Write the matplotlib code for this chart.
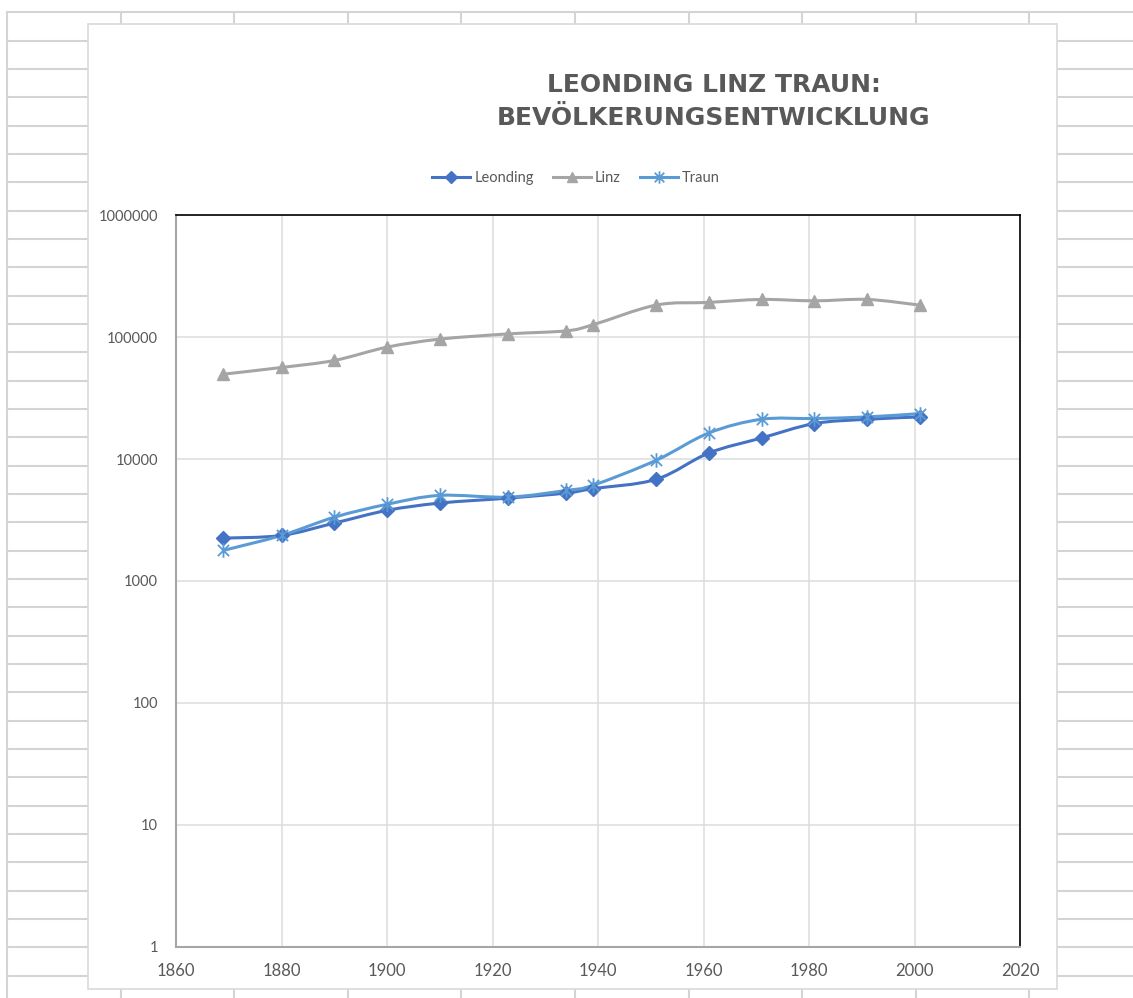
import matplotlib
matplotlib.use("Agg")
import matplotlib.pyplot as plt
import numpy as np
from matplotlib.path import Path
from matplotlib.patches import PathPatch, Rectangle
from matplotlib.lines import Line2D
from matplotlib.ticker import FixedLocator, FixedFormatter, NullLocator

# ---------------- data ----------------
years = [1869, 1880, 1890, 1900, 1910, 1923, 1934, 1939, 1951, 1961, 1971, 1981, 1991, 2001]
leonding = [2244, 2360, 2980, 3790, 4350, 4780, 5260, 5710, 6810, 11200, 14880, 19540, 21190, 22150]
linz = [49700, 56400, 64400, 82800, 96300, 106400, 112700, 126200, 183200, 192900, 204000, 198700, 204000, 183200]
traun = [1780, 2360, 3330, 4250, 5030, 4870, 5530, 6080, 9750, 16350, 21200, 21500, 22150, 23600]
series_names = ["Leonding", "Linz", "Traun"]
x_ticks = [1860, 1880, 1900, 1920, 1940, 1960, 1980, 2000, 2020]
y_ticks = [1, 10, 100, 1000, 10000, 100000, 1000000]
y_tick_labels = ["1", "10", "100", "1000", "10000", "100000", "1000000"]
title = "LEONDING LINZ TRAUN:\nBEVÖLKERUNGSENTWICKLUNG"

W, H = 1133, 998
fig = plt.figure(figsize=(W / 100, H / 100), dpi=100)
fig.patch.set_facecolor("white")

def fx(x):
    return x / W

def fy(y):
    return 1 - y / H

# -------- spreadsheet background grid --------
gc = "#D4D4D4"
fig.add_artist(Line2D([fx(7), fx(W)], [fy(12.3), fy(12.3)], color=gc, lw=1.5, zorder=0))
fig.add_artist(Line2D([fx(7), fx(7)], [fy(12.3), fy(H)], color=gc, lw=1.5, zorder=0))
k = 1
while 12.3 + 28.33 * k < H:
    yy = 12.3 + 28.33 * k
    fig.add_artist(Line2D([fx(7), fx(88)], [fy(yy), fy(yy)], color=gc, lw=1.5, zorder=0))
    fig.add_artist(Line2D([fx(1057), fx(W)], [fy(yy), fy(yy)], color=gc, lw=1.5, zorder=0))
    k += 1
k = 1
while 7 + 113.6 * k < W:
    xx = 7 + 113.6 * k
    fig.add_artist(Line2D([fx(xx), fx(xx)], [fy(12.3), fy(24)], color=gc, lw=1.5, zorder=0))
    fig.add_artist(Line2D([fx(xx), fx(xx)], [fy(989), fy(H)], color=gc, lw=1.5, zorder=0))
    k += 1

# chart area
fig.add_artist(Rectangle((fx(88), fy(989.3)), fx(1057.3) - fx(88), fy(24.3) - fy(989.3),
                         facecolor="white", edgecolor="#D9D9D9", lw=1.2, zorder=1))

# -------- axes --------
ax = fig.add_axes([fx(176), fy(946.5), fx(1020) - fx(176), fy(215.3) - fy(946.5)])
ax.set_zorder(2)
ax.set_facecolor("white")
ax.set_yscale("log")
ax.set_xlim(1860, 2020)
ax.set_ylim(1, 1000000)
ax.xaxis.set_major_locator(FixedLocator(x_ticks))
ax.yaxis.set_major_locator(FixedLocator(y_ticks))
ax.yaxis.set_major_formatter(FixedFormatter(y_tick_labels))
ax.yaxis.set_minor_locator(NullLocator())
ax.grid(True, which="major", color="#DDDDDD", lw=1.1)
ax.set_axisbelow(True)
for s in ["left", "bottom"]:
    ax.spines[s].set_color("#A6A6A6")
    ax.spines[s].set_linewidth(1.5)
for s in ["top", "right"]:
    ax.spines[s].set_color("black")
    ax.spines[s].set_linewidth(1.2)
ax.tick_params(axis="both", length=0, colors="#595959")
ax.tick_params(axis="y", pad=13, labelsize=10.5)
ax.tick_params(axis="x", pad=12, labelsize=12)
for lab in ax.get_xticklabels() + ax.get_yticklabels():
    lab.set_family("Lato")

colors = ["#4472C4", "#A5A5A5", "#5B9BD5"]
star = Path([(-1, -1), (1, 1), (-1, 1), (1, -1), (0, -1.3), (0, 1.3)],
            [Path.MOVETO, Path.LINETO, Path.MOVETO, Path.LINETO, Path.MOVETO, Path.LINETO])
markers = ["D", "^", star]
msizes = [7, 9, 10.5]
mews = [1, 1, 1.3]


def smooth_path(xs, ys, t=1.0 / 6.0):
    px = np.asarray(xs, dtype=float)
    py = np.log10(np.asarray(ys, dtype=float))
    n = len(px)
    verts = [(px[0], 10 ** py[0])]
    codes = [Path.MOVETO]
    for i in range(n - 1):
        i0 = max(i - 1, 0)
        i3 = min(i + 2, n - 1)
        c1x = px[i] + (px[i + 1] - px[i0]) * t
        c1y = py[i] + (py[i + 1] - py[i0]) * t
        c2x = px[i + 1] - (px[i3] - px[i]) * t
        c2y = py[i + 1] - (py[i3] - py[i]) * t
        verts += [(c1x, 10 ** c1y), (c2x, 10 ** c2y), (px[i + 1], 10 ** py[i + 1])]
        codes += [Path.CURVE4] * 3
    return Path(verts, codes)


handles = []
for vals, name, c, m, ms, mew in zip([leonding, linz, traun], series_names, colors, markers, msizes, mews):
    ax.add_patch(PathPatch(smooth_path(years, vals), fill=False, edgecolor=c, lw=2.2,
                           transform=ax.transData, zorder=3, capstyle="round", joinstyle="round"))
    ax.plot(years, vals, linestyle="none", marker=m, ms=ms, color=c, mec=c, mew=mew, zorder=4,
            clip_on=False)
    handles.append(Line2D([], [], color=c, lw=2.2, marker=m, ms=ms * 0.85, mec=c, mew=mew))

leg = fig.legend(handles, series_names, loc="center", bbox_to_anchor=(fx(576), fy(178)),
                 ncol=3, frameon=False, handlelength=2.6, columnspacing=1.3, handletextpad=0.3,
                 prop={"family": "Lato", "size": 10.5})
for t_ in leg.get_texts():
    t_.set_color("#595959")

fig.text(fx(714), fy(101.5), title, ha="center", va="center", multialignment="center",
         fontsize=18, fontweight="bold", color="#595959", family="DejaVu Sans", linespacing=1.45)

fig.savefig("out.png", dpi=100, facecolor="white")
